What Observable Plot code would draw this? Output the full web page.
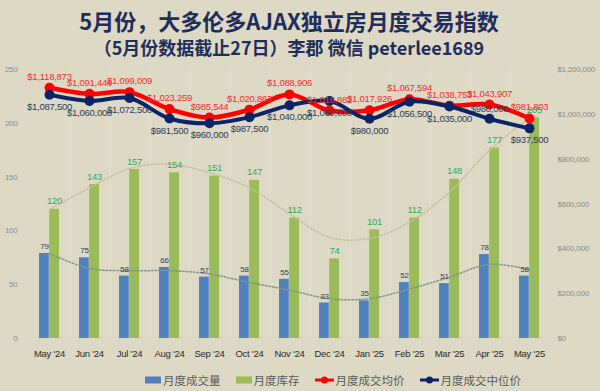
<!DOCTYPE html>
<html>
<head>
<meta charset="utf-8">
<script src="https://cdn.jsdelivr.net/npm/d3@7"></script>
<script src="https://cdn.jsdelivr.net/npm/@observablehq/plot@0.6"></script>
<style>
  html, body { margin: 0; padding: 0; background: #ddd9c4; }
  #wrap { position: relative; width: 600px; height: 391px; background: #ddd9c4; overflow: hidden; }
  .title { position: absolute; left: 0; width: 578px; text-align: center; color: #1f2d5c; font-family: "Noto Sans CJK SC", sans-serif; font-weight: bold; }
  #t1 { top: 6px; font-size: 22px; line-height: 28px; }
  #t2 { top: 36px; font-size: 18px; line-height: 22px; }
  #chart { position: absolute; left: 0; top: 60px; }
  #chart svg text { letter-spacing: -0.25px; }
  #legend { position: absolute; left: 145px; top: 370px; height: 20px; display: flex; align-items: center; gap: 15px;
            font-family: "Noto Sans CJK SC", sans-serif; font-size: 11.5px; color: #595959; }
  .item { display: flex; align-items: center; gap: 2px; }
</style>
</head>
<body>
<div id="wrap">
  <div class="title" id="t1">5月份，大多伦多AJAX独立房月度交易指数</div>
  <div class="title" id="t2">（5月份数据截止27日）李郡 微信 peterlee1689</div>
  <div id="chart"></div>
  <div id="legend"></div>
</div>
<script>
const months = ["May '24","Jun '24","Jul '24","Aug '24","Sep '24","Oct '24","Nov '24","Dec '24","Jan '25","Feb '25","Mar '25","Apr '25","May '25"];
const sales = [79, 75, 58, 66, 57, 58, 55, 33, 35, 52, 51, 78, 58];
const inventory = [120, 143, 157, 154, 151, 147, 112, 74, 101, 112, 148, 177, 205];
const avgPrice = [1118873, 1091446, 1099009, 1023259, 985544, 1020863, 1088906, 1016882, 1017926, 1067594, 1038753, 1043907, 981803];
const medianPrice = [1087500, 1060000, 1072500, 981500, 960000, 987500, 1040000, 1060000, 980000, 1056500, 1035000, 980000, 937500];
const salesTrend = [79, 65, 63, 63, 60, 52, 45, 37, 37, 46, 57, 69, 64];
const inventoryTrend = [120, 140, 158, 162, 154, 140, 116, 94, 93, 108, 136, 175, 205];
const leftTicks = [0, 50, 100, 150, 200, 250];
const rightTicks = [0, 200000, 400000, 600000, 800000, 1000000, 1200000];
const seriesNames = ["月度成交量", "月度库存", "月度成交均价", "月度成交中位价"];
const seriesColors = ["#4f81bd", "#9bbb59", "#ff0000", "#0c2366"];

const rows = months.map((m, i) => ({
  month: m, sales: sales[i], inventory: inventory[i],
  avg: avgPrice[i], median: medianPrice[i],
  salesTrend: salesTrend[i], invTrend: inventoryTrend[i]
}));

const W = 600, H = 309, ML = 28, MR = 50, MT = 9, MB = 31;
const padIn = 0.5, padOut = 0.142;
const step = (W - ML - MR) / (months.length - padIn + 2 * padOut);
const bw = step * (1 - padIn);
const PRICE_MAX = 1200000, LEFT_MAX = 250;
const k = PRICE_MAX / LEFT_MAX; // price units per left-axis unit
const py = v => v / k;
const money = d3.format(",");
const font = "'Liberation Sans', Arial, sans-serif";

const chart = Plot.plot({
  width: W, height: H,
  marginLeft: ML, marginRight: MR, marginTop: MT, marginBottom: MB,
  style: { background: "transparent", fontFamily: font },
  x: { type: "band", domain: months, paddingInner: padIn, paddingOuter: padOut },
  y: { domain: [0, LEFT_MAX] },
  marks: [
    Plot.ruleX(months.slice(0, -1), { x: d => d, dx: step / 2, stroke: "#e6e3d3", strokeWidth: 1 }),
    Plot.axisY(leftTicks, { anchor: "left", tickSize: 0, tickPadding: 11, fill: "#8c8c8c", fontSize: 8, label: null }),
    Plot.axisY(rightTicks.map(py), { anchor: "right", tickSize: 0, tickPadding: 7, fill: "#8c8c8c", fontSize: 8, label: null,
      tickFormat: d => "$" + money(Math.round(d * k)) }),
    Plot.axisX({ tickSize: 0, tickPadding: 12, fill: "#2b2b2b", fontSize: 9.5, label: null }),
    Plot.barY(rows, { x: "month", y: "sales", fill: seriesColors[0], insetRight: bw / 2 }),
    Plot.barY(rows, { x: "month", y: "inventory", fill: seriesColors[1], insetLeft: bw / 2 }),
    Plot.line(rows, { x: "month", y: "invTrend", curve: "catmull-rom", stroke: "#c4bf9f", strokeWidth: 1.5, strokeDasharray: "1.5,2" }),
    Plot.line(rows, { x: "month", y: "salesTrend", curve: "catmull-rom", stroke: "#7f978a", strokeWidth: 1.5, strokeDasharray: "1.5,2" }),
    Plot.text(rows, { x: "month", y: "sales", text: d => String(d.sales), dx: -bw / 4, dy: -7, fill: "#2f3b55", fontSize: 8 }),
    Plot.text(rows, { x: "month", y: "inventory", text: d => String(d.inventory), dx: bw / 4, dy: -8, fill: "#3aa657", fontSize: 9.5 }),
    Plot.line(rows, { x: "month", y: d => py(d.avg), curve: "catmull-rom", stroke: seriesColors[2], strokeWidth: 4.5 }),
    Plot.dot(rows, { x: "month", y: d => py(d.avg), r: 5, fill: seriesColors[2] }),
    Plot.line(rows, { x: "month", y: d => py(d.median), curve: "catmull-rom", stroke: seriesColors[3], strokeWidth: 4 }),
    Plot.dot(rows, { x: "month", y: d => py(d.median), r: 5, fill: seriesColors[3] }),
    Plot.text(rows, { x: "month", y: d => py(d.avg), text: d => "$" + money(d.avg), dy: -11, fill: "#ee3030", fontSize: 9.5 }),
    Plot.text(rows.filter(d => d.month !== "Apr '25"), { x: "month", y: d => py(d.median), text: d => "$" + money(d.median), dy: 12, fill: "#2f3b55", fontSize: 9.5 }),
    Plot.text(rows.filter(d => d.month === "Apr '25"), { x: "month", y: d => py(d.median), text: d => "$" + money(d.median), dy: -10, fill: "#2f3b55", fontSize: 9.5 })
  ]
});
document.getElementById("chart").appendChild(chart);

// legend
const legend = document.getElementById("legend");
seriesNames.forEach((name, i) => {
  const item = document.createElement("div");
  item.className = "item";
  let sw;
  if (i < 2) {
    sw = `<svg width="16" height="8"><rect x="0" y="0.5" width="16" height="7" fill="${seriesColors[i]}"/></svg>`;
  } else {
    sw = `<svg width="19" height="10"><line x1="0" y1="5" x2="19" y2="5" stroke="${seriesColors[i]}" stroke-width="3"/><circle cx="9.5" cy="5" r="3.5" fill="${seriesColors[i]}"/></svg>`;
  }
  item.innerHTML = sw + `<span>${name}</span>`;
  legend.appendChild(item);
});
</script>
</body>
</html>
